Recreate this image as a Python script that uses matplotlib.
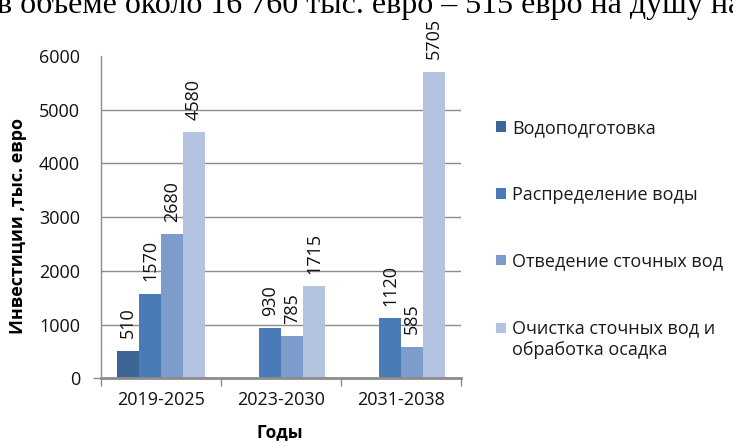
import numpy as np
import matplotlib.pyplot as plt

# Data
periods = ['2019-2025', '2023-2030', '2031-2038']
series = ['Водоподготовка', 'Распределение воды', 'Отведение сточных вод',
          'Очистка сточных вод и\nобработка осадка']
water_prep = [510, np.nan, np.nan]
water_dist = [1570, 930, 1120]
sewage = [2680, 785, 585]
treatment = [4580, 1715, 5705]
colors = ['#3d6697', '#4a7bb7', '#7e9ccb', '#b4c4e0']
header = 'в объеме около 16 760 тыс. евро – 515 евро на душу на'

plt.rcParams['font.family'] = ['Open Sans', 'DejaVu Sans']
grey = '#8c8c8c'

fig = plt.figure(figsize=(7.33, 4.47), dpi=100)
ax = fig.add_axes([0.1378, 0.1537, 0.4911, 0.7210])

x = np.arange(len(periods))
width = 0.183
for k, (vals, name, col) in enumerate(zip([water_prep, water_dist, sewage, treatment], series, colors)):
    bars = ax.bar(x + (k - 1.5) * width, vals, width, color=col, label=name, zorder=2)
    labels = ['' if np.isnan(v) else f'{v:.0f}' for v in vals]
    ax.bar_label(bars, labels=labels, rotation=90, padding=9, fontsize=13, color='#111111')

# axes, ticks, grid
ax.set_xlim(-0.5, 2.5)
ax.set_xticks(x, periods)
ax.set_xticks([-0.5, 0.5, 1.5, 2.5], minor=True)
ax.tick_params(axis='x', which='major', length=0, pad=9, labelsize=13, labelcolor='#111111')
ax.tick_params(axis='x', which='minor', length=6, width=1, color=grey, direction='out')
ax.set_ylim(0, 6000)
ax.set_yticks(np.arange(0, 6001, 1000))
ax.yaxis.remove_overlapping_locs = False
ax.set_yticks([0], minor=True)
ax.tick_params(axis='y', which='major', length=0, pad=15, labelsize=13, labelcolor='#111111')
ax.tick_params(axis='y', which='minor', length=6, width=1, color=grey)
ax.grid(axis='y', color=grey, lw=1)
ax.set_axisbelow(True)
ax.get_ygridlines()[-1].set_visible(False)

for side in ['top', 'right']:
    ax.spines[side].set_visible(False)
ax.spines['left'].set_color(grey)
ax.spines['left'].set_linewidth(1)
ax.spines['bottom'].set_color(grey)
ax.spines['bottom'].set_linewidth(2)

ax.set_ylabel('Инвестиции ,тыс. евро', fontsize=13, fontweight='bold')
ax.yaxis.set_label_coords(-0.205, 0.4725)
ax.set_xlabel('Годы', fontsize=12.5, fontweight='bold')
ax.xaxis.set_label_coords(0.497, -0.14)

leg = ax.legend(loc='upper left', bbox_to_anchor=(0.677, 0.734), bbox_transform=fig.transFigure,
                frameon=False, fontsize=13, handlelength=0.55, handleheight=0.55,
                handletextpad=0.35, labelspacing=2.7, borderpad=0, borderaxespad=0)
for t in leg.get_texts():
    t.set_color('#1a1a1a')
leg.get_texts()[3].set_linespacing(1.25)
h = leg.legend_handles[3]
h.set_y(h.get_y() + 8.3)

# cropped line of page text above the chart
fig.text(-0.004, 1 - 13 / 447, header, fontsize=23, family='Liberation Serif',
         ha='left', va='baseline')

fig.savefig('out.png', dpi=100)
